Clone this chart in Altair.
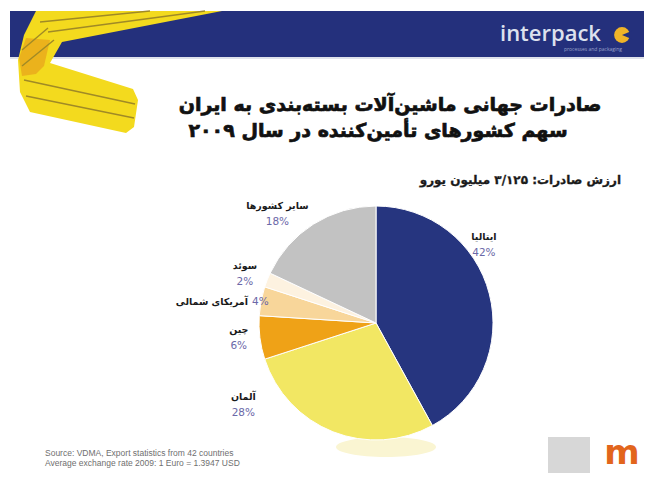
import altair as alt
import pandas as pd

# ---------------- data ----------------
countries = ["ایتالیا", "آلمان", "چین", "آمریکای شمالی", "سوئد", "سایر کشورها"]
shares = [42, 28, 6, 4, 2, 18]
palette = ["#26357F", "#F2E763", "#EFA217", "#F8D69A", "#FDF2E0", "#C2C2C2"]

title_lines = ["صادرات جهانی ماشین‌آلات بسته‌بندی به ایران",
               "سهم کشورهای تأمین‌کننده در سال ۲۰۰۹"]
subtitle = "ارزش صادرات: ۳/۱۲۵ میلیون یورو"
source_lines = ["Source: VDMA, Export statistics from 42 countries",
                "Average exchange rate 2009: 1 Euro = 1.3947 USD"]
logo_text = "interpack"
logo_tag = "processes and packaging"

df = pd.DataFrame({"country": countries, "share": shares,
                   "order": list(range(len(countries)))})
df["pct"] = [f"{s}%" for s in shares]

# ---------------- layout ----------------
W, H = 636, 465
CX, CY, R = 368, 315, 117
FA = "DejaVu Sans"
one = alt.Data(values=[{"k": 0}])


def P(pts, close=True):
    s = "M" + " L".join(f"{x - 8:.1f},{y - 8:.1f}" for x, y in pts)
    return s + (" Z" if close else "")


def shape(path, fill=None, stroke=None, sw=1.0, op=1.0):
    if fill is not None:
        m = alt.Chart(one).mark_point(shape=path, size=4, filled=True, fill=fill,
                                      strokeWidth=0, opacity=op)
    else:
        m = alt.Chart(one).mark_point(shape=path, size=4, filled=False, fill="transparent",
                                      stroke=stroke, strokeWidth=sw, opacity=op)
    return m.encode(x=alt.value(0), y=alt.value(0))


def txt(s, x, y, **kw):
    return alt.Chart(one).mark_text(**kw).encode(
        x=alt.value(x), y=alt.value(y), text=alt.value(s))


layers = []

# header band
layers.append(alt.Chart(one).mark_rect(color="#24307C").encode(
    x=alt.value(2), x2=alt.value(W), y=alt.value(3), y2=alt.value(49)))
layers.append(alt.Chart(one).mark_rule(color="#D5D8E4", strokeWidth=1.5).encode(
    x=alt.value(2), x2=alt.value(W), y=alt.value(50)))

# ribbon decoration
layers.append(shape(P([(36, 11), (222, 11), (62, 42), (50, 63), (133, 89), (138, 100),
                       (134, 127), (126, 133), (30, 112), (20, 92), (18, 60), (24, 35)]),
                    fill="#F3DA1E"))
layers.append(shape(P([(26, 38), (50, 40), (44, 66), (36, 74), (22, 76), (19, 58)]),
                    fill="#EBB21C"))
for pts in [[(40, 22), (150, 11)], [(48, 32), (205, 11)],
            [(22, 50), (48, 28)], [(22, 66), (54, 40)],
            [(24, 80), (135, 104)], [(26, 96), (134, 118)]]:
    layers.append(shape(P(pts, close=False), stroke="#A08A26", sw=1.4))

# logo
layers.append(txt(logo_text, 492, 33, font="Open Sans", fontSize=22, fontWeight=600,
                  color="#DDE1EE", align="left", baseline="alphabetic"))
layers.append(alt.Chart(one).mark_point(shape="circle", size=250, filled=True,
                                        fill="#F0B428", opacity=1, strokeWidth=0).encode(
    x=alt.value(614), y=alt.value(27)))
layers.append(shape(P([(622, 35), (634, 30), (634, 40)]), fill="#24307C"))
layers.append(txt(logo_tag, 585, 41, font="Open Sans", fontSize=5, color="#9AA0C8",
                  align="center", baseline="middle"))

# titles
layers.append(txt(title_lines[0], 382, 97, font=FA, fontSize=19, fontWeight="bold",
                  color="#111111", stroke="#111111", strokeWidth=0.7,
                  align="center", baseline="middle"))
layers.append(txt(title_lines[1], 370, 123, font=FA, fontSize=19, fontWeight="bold",
                  color="#111111", stroke="#111111", strokeWidth=0.7,
                  align="center", baseline="middle"))
layers.append(txt(subtitle, 613, 172, font=FA, fontSize=12, fontWeight="bold",
                  color="#1A1A1A", stroke="#1A1A1A", strokeWidth=0.3,
                  align="right", baseline="middle"))

# reflection under the pie
layers.append(shape("M {a},{y} A 50,10 0 1,0 {b},{y} A 50,10 0 1,0 {a},{y} Z".format(
    a=CX + 10 - 50, b=CX + 10 + 50, y=CY + 124), fill="#FAF5D2"))

# pie
layers.append(alt.Chart(df).mark_arc(radius=R, stroke="white", strokeWidth=1).encode(
    x=alt.value(CX), y=alt.value(CY),
    theta=alt.Theta("share:Q", stack=True),
    color=alt.Color("country:N", scale=alt.Scale(domain=countries, range=palette), legend=None),
    order=alt.Order("order:Q"),
))

# labels
base = (alt.Chart(df)
        .transform_window(cum="sum(share)", sort=[alt.SortField("order")])
        .transform_joinaggregate(total="sum(share)")
        .transform_calculate(mid="(datum.cum - datum.share / 2) / datum.total * 2 * PI"))


def label(i, dt, r, inline=False):
    b = base.transform_filter(f"datum.order == {i}").transform_calculate(
        px=f"{CX} + {r} * sin(datum.mid + {dt})",
        py=f"{CY} - {r} * cos(datum.mid + {dt})")
    enc = dict(x=alt.X("px:Q", scale=None, axis=None), y=alt.Y("py:Q", scale=None, axis=None))
    if inline:
        n = b.mark_text(font=FA, fontSize=9.5, fontWeight="bold", color="#1A1A1A",
                        align="right", baseline="middle", dx=12).encode(text="country:N", **enc)
        p = b.mark_text(font=FA, fontSize=10.5, color="#6B68A8", align="left",
                        baseline="middle", dx=16).encode(text="pct:N", **enc)
    else:
        n = b.mark_text(font=FA, fontSize=9.5, fontWeight="bold", color="#1A1A1A",
                        align="center", baseline="middle", dy=-8).encode(text="country:N", **enc)
        p = b.mark_text(font=FA, fontSize=10.5, color="#6B68A8", align="center",
                        baseline="middle", dy=8).encode(text="pct:N", **enc)
    return [n, p]


layers += label(0, -0.373, 133)
layers += label(1, 0.64, 156)
layers += label(2, 0.02, 138)
layers += label(3, -0.04, 141.6, inline=True)
layers += label(4, -0.02, 140)
layers += label(5, -0.17, 147)

# source
layers.append(txt(source_lines[0], 37, 445, font="Liberation Sans", fontSize=8.5,
                  color="#6F6F6F", align="left", baseline="middle"))
layers.append(txt(source_lines[1], 37, 455, font="Liberation Sans", fontSize=8.5,
                  color="#6F6F6F", align="left", baseline="middle"))

# bottom-right logos
layers.append(alt.Chart(one).mark_rect(color="#D7D7D7").encode(
    x=alt.value(540), x2=alt.value(582), y=alt.value(429), y2=alt.value(H)))
layers.append(txt("m", 614, 456, font=FA, fontSize=34, fontWeight="bold",
                  color="#E2651C", align="center", baseline="alphabetic"))

chart = alt.layer(*layers).properties(
    width=W, height=H, padding=0,
    autosize=alt.AutoSizeParams(type="none"),
    background="white",
).configure_view(stroke=None)

chart.save("out.html", embed_options={"renderer": "svg", "actions": False})
